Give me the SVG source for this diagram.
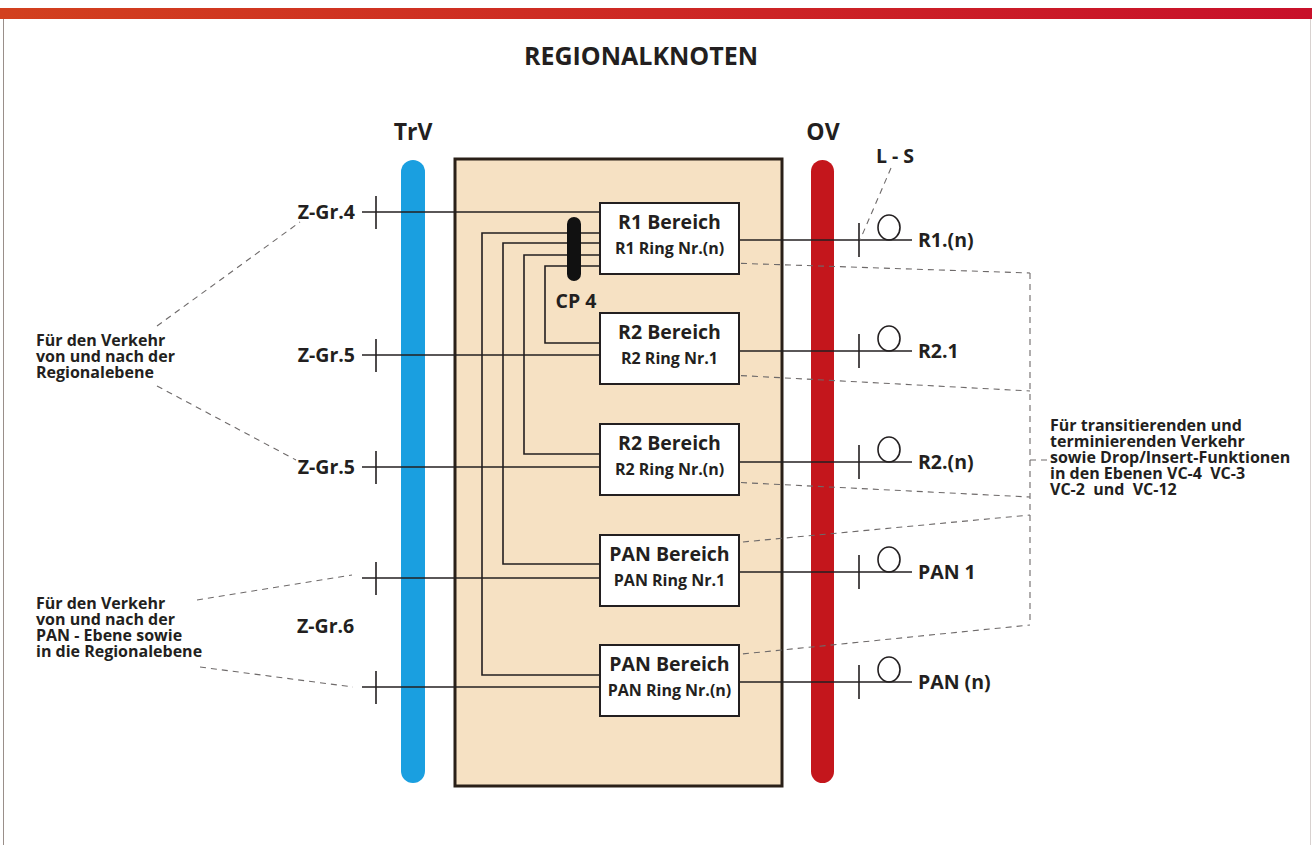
<svg xmlns="http://www.w3.org/2000/svg" width="1312" height="845" viewBox="0 0 1312 845">
<defs>
<linearGradient id="topbar" x1="0" y1="0" x2="1" y2="0">
<stop offset="0" stop-color="#d2401e"/>
<stop offset="1" stop-color="#c8102a"/>
</linearGradient>
<style>
text{font-family:"Open Sans","Liberation Sans",sans-serif;font-weight:700;fill:#231f20;white-space:pre}
.title{font-size:25px}
.big{font-size:23px}
.bt{font-size:19.5px}
.bs{font-size:16px}
.lbl{font-size:19.5px}
.note{font-size:16px}
.rnote{font-size:16px}
.ln{stroke:#231f20;stroke-width:1.6;fill:none}
.tick{stroke:#231f20;stroke-width:1.6}
.dash{stroke:#6e6a6a;stroke-width:1.1;stroke-dasharray:6 5;fill:none}
.box{fill:#ffffff;stroke:#231f20;stroke-width:2}
.loop{fill:none;stroke:#231f20;stroke-width:1.6}
</style>
</defs>
<rect x="0" y="0" width="1312" height="845" fill="#ffffff"/>
<rect x="0" y="8" width="1312" height="11" fill="url(#topbar)"/>
<line x1="3.5" y1="19" x2="3.5" y2="845" stroke="#9a8f8a" stroke-width="1"/>
<line x1="1310.5" y1="19" x2="1310.5" y2="845" stroke="#d8d2d0" stroke-width="1"/>
<text class="title" x="641" y="65" text-anchor="middle">REGIONALKNOTEN</text>

<g id="trv">
<rect x="401" y="160" width="24" height="623" rx="12" fill="#1a9fe0"/>
<text class="big" x="413" y="140" text-anchor="middle">TrV</text>
</g>
<g id="regionalknoten">
<rect x="455" y="159" width="327" height="627" fill="#f6e1c3" stroke="#2a2018" stroke-width="3"/>
</g>
<g id="ov">
<rect x="811" y="160" width="23" height="623" rx="11.5" fill="#c4161c"/>
<text class="big" x="823" y="140" text-anchor="middle">OV</text>
</g>

<g id="connectors">
<path class="ln" d="M362,212 H600"/>
<path class="ln" d="M362,355 H600"/>
<path class="ln" d="M362,467 H600"/>
<path class="ln" d="M362,578 H600"/>
<path class="ln" d="M362,687 H600"/>
<path class="ln" d="M600,233 H482 V675 H600"/>
<path class="ln" d="M600,243 H503 V564 H600"/>
<path class="ln" d="M600,255 H524 V454 H600"/>
<path class="ln" d="M600,266 H545 V343 H600"/>
<path class="ln" d="M739,240 H912"/>
<path class="ln" d="M739,351 H912"/>
<path class="ln" d="M739,462 H912"/>
<path class="ln" d="M739,572 H912"/>
<path class="ln" d="M739,682 H912"/>
<g class="tick">
<line x1="376" y1="196" x2="376" y2="229"/>
<line x1="376" y1="339" x2="376" y2="372"/>
<line x1="376" y1="451" x2="376" y2="484"/>
<line x1="376" y1="562" x2="376" y2="595"/>
<line x1="376" y1="671" x2="376" y2="704"/>
<line x1="859" y1="223" x2="859" y2="257"/>
<line x1="859" y1="334" x2="859" y2="368"/>
<line x1="859" y1="445" x2="859" y2="479"/>
<line x1="859" y1="555" x2="859" y2="589"/>
<line x1="859" y1="665" x2="859" y2="699"/>
</g>
<ellipse class="loop" cx="889" cy="227.5" rx="11" ry="12.5"/>
<ellipse class="loop" cx="889" cy="338.5" rx="11" ry="12.5"/>
<ellipse class="loop" cx="889" cy="449.5" rx="11" ry="12.5"/>
<ellipse class="loop" cx="889" cy="559.5" rx="11" ry="12.5"/>
<ellipse class="loop" cx="889" cy="669.5" rx="11" ry="12.5"/>
<path class="dash" d="M730,263 L1030,273"/>
<path class="dash" d="M730,375 L1030,391"/>
<path class="dash" d="M730,482 L1030,497"/>
<path class="dash" d="M732,543 L1030,515"/>
<path class="dash" d="M732,655 L1030,625"/>
<path class="dash" d="M1030,273 V625"/>
<path class="dash" d="M1030,460 H1047"/>
<path class="dash" d="M891,168 L860,240"/>
<path class="dash" d="M157,326 L300,222"/>
<path class="dash" d="M157,386 L296,460"/>
<path class="dash" d="M197,600 L352,575"/>
<path class="dash" d="M200,667 L353,687"/>
</g>

<g id="cp4">
<rect x="567" y="217" width="14" height="64" rx="7" fill="#111"/>
<text class="lbl" x="576" y="308" text-anchor="middle">CP 4</text>
</g>

<g id="r1">
<rect class="box" x="600" y="203" width="139" height="71"/>
<text class="bt" x="669.5" y="229" text-anchor="middle">R1 Bereich</text>
<text class="bs" x="669.5" y="254" text-anchor="middle">R1 Ring Nr.(n)</text>
</g>
<g id="r2-1">
<rect class="box" x="600" y="313" width="139" height="71"/>
<text class="bt" x="669.5" y="339" text-anchor="middle">R2 Bereich</text>
<text class="bs" x="669.5" y="364" text-anchor="middle">R2 Ring Nr.1</text>
</g>
<g id="r2-n">
<rect class="box" x="600" y="424" width="139" height="71"/>
<text class="bt" x="669.5" y="450" text-anchor="middle">R2 Bereich</text>
<text class="bs" x="669.5" y="475" text-anchor="middle">R2 Ring Nr.(n)</text>
</g>
<g id="pan-1">
<rect class="box" x="600" y="535" width="139" height="71"/>
<text class="bt" x="669.5" y="561" text-anchor="middle">PAN Bereich</text>
<text class="bs" x="669.5" y="586" text-anchor="middle">PAN Ring Nr.1</text>
</g>
<g id="pan-n">
<rect class="box" x="600" y="645" width="139" height="71"/>
<text class="bt" x="669.5" y="671" text-anchor="middle">PAN Bereich</text>
<text class="bs" x="669.5" y="696" text-anchor="middle">PAN Ring Nr.(n)</text>
</g>

<g id="left-labels">
<text class="lbl" x="355" y="219" text-anchor="end">Z-Gr.4</text>
<text class="lbl" x="355" y="362" text-anchor="end">Z-Gr.5</text>
<text class="lbl" x="355" y="474" text-anchor="end">Z-Gr.5</text>
<text class="lbl" x="297" y="633">Z-Gr.6</text>
</g>
<g id="right-labels">
<text class="lbl" x="918" y="247">R1.(n)</text>
<text class="lbl" x="918" y="358">R2.1</text>
<text class="lbl" x="918" y="469">R2.(n)</text>
<text class="lbl" x="918" y="579">PAN 1</text>
<text class="lbl" x="918" y="689">PAN (n)</text>
<text class="lbl" x="895" y="163" text-anchor="middle">L - S</text>
</g>
<g id="note-regional">
<text class="note" x="36" y="346">Für den Verkehr</text>
<text class="note" x="36" y="362">von und nach der</text>
<text class="note" x="36" y="378">Regionalebene</text>
</g>
<g id="note-pan">
<text class="note" x="36" y="609">Für den Verkehr</text>
<text class="note" x="36" y="625">von und nach der</text>
<text class="note" x="36" y="641">PAN - Ebene sowie</text>
<text class="note" x="36" y="657">in die Regionalebene</text>
</g>
<g id="note-transit">
<text class="rnote" x="1050" y="431">Für transitierenden und</text>
<text class="rnote" x="1050" y="447">terminierenden Verkehr</text>
<text class="rnote" x="1050" y="463">sowie Drop/Insert-Funktionen</text>
<text class="rnote" x="1050" y="479">in den Ebenen VC-4  VC-3</text>
<text class="rnote" x="1050" y="495">VC-2  und  VC-12</text>
</g>
</svg>
